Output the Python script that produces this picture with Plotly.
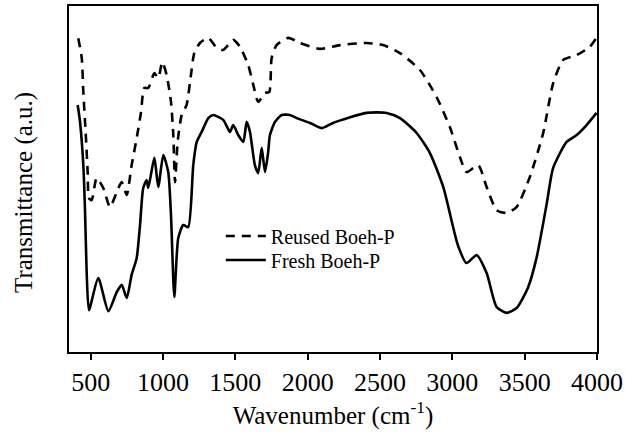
import plotly.graph_objects as go

# Fresh Boeh-P (solid)
fresh_wn = [410, 426, 449, 461, 472, 488, 552, 622, 680, 714, 749, 783, 818, 841, 863, 887, 898,
            940, 967, 1002, 1036, 1055, 1078, 1105, 1140, 1174, 1209, 1233, 1267, 1313, 1347, 1416,
            1463, 1485, 1520, 1555, 1578, 1601, 1635, 1658, 1682, 1705, 1727, 1739, 1774, 1820,
            1877, 1924, 2016, 2096, 2175, 2407, 2546, 2638, 2753, 2845, 2937, 3038, 3098, 3168,
            3237, 3306, 3375, 3444, 3522, 3582, 3651, 3697, 3790, 3859, 3928, 3997]
fresh_t = [71.4, 66.6, 54.0, 40.5, 23.2, 12.1, 21.4, 11.8, 17.3, 19.4, 15.6, 22.3, 27.2, 36.7, 47.4,
           49.7, 47.4, 56.1, 47.7, 56.9, 52.0, 39.6, 15.9, 32.9, 36.7, 36.1, 54.0, 60.7, 63.6, 67.6,
           68.5, 67.1, 63.6, 65.6, 62.7, 60.7, 66.5, 63.6, 54.0, 51.7, 59.0, 52.0, 57.8, 62.7, 66.5,
           68.5, 68.5, 67.6, 66.2, 64.7, 66.2, 69.1, 69.1, 67.6, 63.3, 57.5, 47.7, 30.9, 25.7, 28.0,
           22.8, 13.0, 11.3, 12.7, 18.5, 27.2, 42.5, 53.2, 60.7, 62.7, 65.6, 69.1]

# Reused Boeh-P (dashed)
reused_wn = [414, 438, 449, 465, 479, 488, 507, 541, 587, 633, 680, 714, 749, 783, 818, 848, 870,
             898, 940, 967, 995, 1025, 1055, 1071, 1083, 1101, 1129, 1163, 1193, 1216, 1255, 1313,
             1371, 1416, 1485, 1532, 1589, 1624, 1658, 1705, 1734, 1751, 1785, 1866, 1946, 2085,
             2223, 2407, 2522, 2638, 2776, 2891, 2983, 3052, 3098, 3179, 3237, 3306, 3375, 3444,
             3536, 3628, 3697, 3766, 3859, 3950, 3997]
reused_t = [90.7, 85.0, 75.1, 63.6, 52.0, 44.5, 43.9, 50.3, 47.4, 41.9, 46.2, 49.1, 45.4, 54.0, 61.8,
            69.4, 76.3, 76.3, 80.6, 79.2, 83.8, 80.1, 72.3, 62.7, 49.1, 60.7, 68.5, 71.4, 80.1, 86.4,
            89.3, 90.8, 87.9, 87.3, 90.2, 88.2, 82.9, 77.2, 72.3, 74.9, 75.1, 85.0, 88.7, 90.8, 89.3,
            87.6, 88.7, 89.3, 88.7, 86.4, 81.5, 73.7, 65.0, 56.4, 52.0, 54.0, 47.7, 41.0, 40.2, 41.9,
            50.6, 63.3, 77.7, 84.4, 85.8, 88.2, 90.8]

x_ticks = [500, 1000, 1500, 2000, 2500, 3000, 3500, 4000]

FONT = "Liberation Serif, Times New Roman, serif"

fig = go.Figure()
fig.add_trace(go.Scatter(x=reused_wn, y=reused_t, mode="lines", name="Reused Boeh-P", legend="legend",
                         line=dict(color="black", width=2.6, dash="9px,7px", shape="spline", smoothing=0.6)))
fig.add_trace(go.Scatter(x=fresh_wn, y=fresh_t, mode="lines", name="Fresh Boeh-P", legend="legend2",
                         line=dict(color="black", width=2.6, shape="spline", smoothing=0.6)))

leg_common = dict(xanchor="left", yanchor="middle", font=dict(family=FONT, size=20, color="black"),
                  bgcolor="rgba(0,0,0,0)", itemwidth=40)

fig.update_layout(
    width=625, height=435,
    margin=dict(l=69, r=28, t=6, b=83, autoexpand=False),
    paper_bgcolor="white", plot_bgcolor="white",
    font=dict(family=FONT, color="black", size=24),
    showlegend=True,
    legend=dict(x=0.2875, y=(352 - 236) / 346, **leg_common),
    legend2=dict(x=0.2875, y=(352 - 260) / 346, **leg_common),
    xaxis=dict(range=[350, 4000], tickvals=x_ticks, ticks="outside", ticklen=6, tickwidth=2,
               tickcolor="black", showline=True, linewidth=2, linecolor="black", mirror=True,
               showgrid=False, zeroline=False, tickfont=dict(family=FONT, size=26), automargin=False,
               title=dict(text="Wavenumber (cm<sup>-1</sup>)", font=dict(family=FONT, size=25), standoff=10)),
    yaxis=dict(range=[0, 100], showticklabels=False, ticks="", showline=True, linewidth=2,
               linecolor="black", mirror=True, showgrid=False, zeroline=False, automargin=False),
    annotations=[dict(text="Transmittance (a.u.)", textangle=-90, xref="paper", yref="paper",
                      x=-0.085, y=0.46, xanchor="center", yanchor="middle", showarrow=False,
                      font=dict(family=FONT, size=25, color="black"))],
)

fig.write_html("out.html")
